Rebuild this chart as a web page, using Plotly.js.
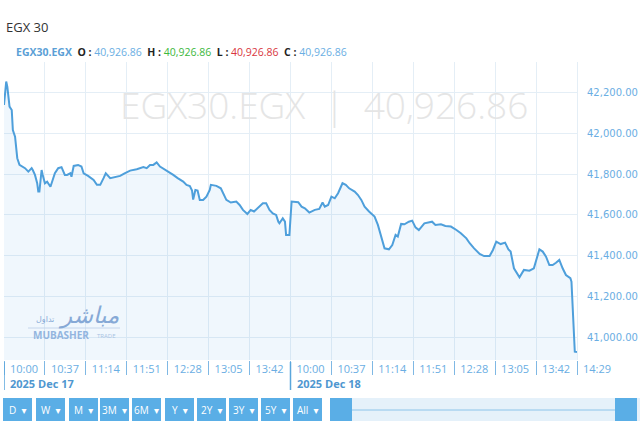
<!DOCTYPE html>
<html>
<head>
<meta charset="utf-8">
<script src="https://cdn.plot.ly/plotly-3.0.1.min.js"></script>
<style>html,body{margin:0;padding:0;background:#fff;}#chart{width:640px;height:421px;}</style>
</head>
<body>
<div id="chart"></div>
<script>
// ---- data ----
const chartTitle = 'EGX 30';
const symbol = 'EGX30.EGX';
const lastValue = '40,926.86';
const tickText = ['10:00','10:37','11:14','11:51','12:28','13:05','13:42','10:00','10:37','11:14','11:51','12:28','13:05','13:42','14:29'];
const tickIdx = [0,37,74,111,148,185,222,259,296,333,370,407,444,481,518];
const dayLabels = ['2025 Dec 17','2025 Dec 18'];
const dayStartIdx = [0,259];
const yTicks = [41000,41200,41400,41600,41800,42000,42200];
const rangeButtons = ['D','W','M','3M','6M','Y','2Y','3Y','5Y','All'];

const minuteIdx = [0,2,3,5,7,8,10,12,14,19,22,25,26,28,30,31,32,34,35,37,39,42,44,46,49,52,55,57,60,61,63,67,70,72,76,81,84,87,90,92,96,100,105,109,114,120,126,129,132,135,138,141,145,150,153,157,162,165,168,170,171,173,175,177,180,183,186,187,192,196,198,201,205,210,213,216,220,223,226,229,234,237,240,243,246,248,249,252,254,255,258,
260,266,269,272,276,281,285,288,290,293,296,299,302,306,309,312,317,320,323,326,330,335,338,341,344,348,351,354,356,359,362,366,369,372,375,380,384,387,390,395,399,404,409,413,418,421,425,430,434,439,442,445,449,453,456,458,461,466,470,475,479,482,484,487,490,493,496,499,502,505,508,512,513,516,518];
const indexValue = [42141,42256,42231,42133,42116,42018,41985,41879,41846,41830,41813,41830,41821,41797,41756,41715,41715,41821,41797,41756,41764,41739,41772,41805,41830,41835,41797,41797,41805,41788,41841,41846,41838,41805,41792,41772,41748,41748,41781,41805,41781,41786,41792,41805,41818,41825,41835,41830,41846,41846,41858,41838,41825,41805,41797,41781,41764,41748,41742,41720,41676,41723,41720,41674,41674,41690,41723,41748,41743,41731,41707,41674,41661,41666,41649,41625,41605,41625,41617,41633,41657,41657,41625,41608,41600,41567,41559,41584,41567,41502,41502,
41666,41663,41641,41633,41612,41625,41630,41661,41641,41649,41690,41682,41707,41756,41748,41731,41715,41698,41674,41641,41617,41592,41551,41494,41436,41431,41452,41502,41494,41556,41554,41567,41572,41539,41526,41559,41562,41567,41551,41554,41546,41543,41526,41510,41485,41461,41436,41408,41398,41398,41428,41469,41457,41464,41431,41420,41338,41294,41330,41326,41338,41387,41431,41420,41395,41354,41354,41365,41379,41338,41305,41289,41272,40928,40926.86];

// ---- layout helpers (pixel -> paper) ----
const W = 640, H = 421, L = 4, R = 577, T = 62, B = 360;
const px = x => (x - L) / (R - L);
const py = y => (B - y) / (B - T);
const FONT = 'Open Sans, Noto Sans, DejaVu Sans, sans-serif';
const BLUE = '#5aaee6';

const shapes = [];
const annotations = [];

// title
annotations.push({xref:'paper',yref:'paper',x:px(4),y:py(27),xanchor:'left',yanchor:'middle',showarrow:false,
  text:chartTitle,font:{family:FONT,size:13,color:'#333333'}});
// OHLC legend
const lab = (t)=>'<b><span style="color:#222">'+t+' : </span></b>';
annotations.push({xref:'paper',yref:'paper',x:px(14),y:py(52),xanchor:'left',yanchor:'middle',showarrow:false,
  text:'<b><span style="color:#5b9fd6">'+symbol+'</span></b>  '+lab('O')+'<span style="color:#6aaee3">'+lastValue+'</span>  '+
       lab('H')+'<span style="color:#3cb83c">'+lastValue+'</span>  '+
       lab('L')+'<span style="color:#d9363e">'+lastValue+'</span>  '+
       lab('C')+'<span style="color:#6aaee3">'+lastValue+'</span>',
  font:{family:FONT,size:10.5,color:'#333'}});
// watermark
annotations.push({xref:'paper',yref:'paper',x:px(324),y:py(105),xanchor:'center',yanchor:'middle',showarrow:false,
  text:symbol+'  |  '+lastValue,font:{family:FONT,size:37,color:'#e5e5e5',weight:300}});
// Mubasher logo
annotations.push({xref:'paper',yref:'paper',x:px(121),y:py(315),xanchor:'right',yanchor:'middle',showarrow:false,
  text:'<i>مباشر</i>',font:{family:'DejaVu Sans, sans-serif',size:23,color:'#86a9d6'}});
annotations.push({xref:'paper',yref:'paper',x:px(56),y:py(319),xanchor:'right',yanchor:'middle',showarrow:false,
  text:'تداول',font:{family:'DejaVu Sans, sans-serif',size:8,color:'#86a9d6'}});
annotations.push({xref:'paper',yref:'paper',x:px(31),y:py(335),xanchor:'left',yanchor:'middle',showarrow:false,
  text:'<b>MUBASHER</b>',font:{family:FONT,size:10,color:'#93b5df'}});
annotations.push({xref:'paper',yref:'paper',x:px(95),y:py(336),xanchor:'left',yanchor:'middle',showarrow:false,
  text:'TRADE',font:{family:FONT,size:6,color:'#a9c3e3'}});
shapes.push({type:'line',xref:'paper',yref:'paper',x0:px(28),x1:px(120),y0:py(328),y1:py(328),line:{color:'#c5d6ec',width:1}});

// day labels and long separators
dayStartIdx.forEach((d,i)=>{
  shapes.push({type:'line',xref:'x',yref:'paper',x0:d,x1:d,y0:py(362),y1:py(390),line:{color:'#5aa6dc',width:1.5}});
  annotations.push({xref:'x',yref:'paper',x:d,y:py(383),xanchor:'left',yanchor:'middle',xshift:4,showarrow:false,
    text:'<b>'+dayLabels[i]+'</b>',font:{family:FONT,size:11,color:'#4f97d0'}});
});

// range buttons
const btnLeft = [3,36,69,100,132,165,197,229,261,293];
rangeButtons.forEach((b,i)=>{
  const x0 = btnLeft[i], x1 = x0 + 29;
  shapes.push({type:'rect',xref:'paper',yref:'paper',x0:px(x0),x1:px(x1),y0:py(398),y1:py(425),fillcolor:BLUE,line:{width:0}});
  annotations.push({xref:'paper',yref:'paper',x:px((x0+x1)/2),y:py(410),xanchor:'center',yanchor:'middle',showarrow:false,
    text:b+'  ▾',font:{family:FONT,size:10,color:'#ffffff'}});
});
// navigator
shapes.push({type:'rect',xref:'paper',yref:'paper',x0:px(330),x1:px(645),y0:py(398),y1:py(425),fillcolor:'#e5f1fa',line:{width:0}});
shapes.push({type:'line',xref:'paper',yref:'paper',x0:px(352),x1:px(615),y0:py(410),y1:py(410),line:{color:'#8cc4ea',width:1}});
shapes.push({type:'rect',xref:'paper',yref:'paper',x0:px(330),x1:px(352),y0:py(398),y1:py(425),fillcolor:BLUE,line:{width:0}});
shapes.push({type:'rect',xref:'paper',yref:'paper',x0:px(615),x1:px(637),y0:py(398),y1:py(425),fillcolor:BLUE,line:{width:0}});

const trace = {
  type:'scatter',mode:'lines',x:minuteIdx,y:indexValue,
  line:{color:'#4e9fdb',width:2},
  fill:'tozeroy',fillcolor:'rgba(90,170,230,0.09)',
  hoverinfo:'skip'
};

const layout = {
  width:W,height:H,autosize:false,
  margin:{l:L,r:W-R,t:T,b:H-B,pad:0},
  paper_bgcolor:'#ffffff',plot_bgcolor:'#ffffff',
  showlegend:false,
  xaxis:{range:[0,518],tickmode:'array',tickvals:tickIdx,ticktext:tickText,
    showgrid:true,gridcolor:'#e4eef6',gridwidth:1,zeroline:false,showline:false,
    ticks:'outside',ticklen:14,tickwidth:1,tickcolor:'#7fb8e4',
    ticklabelshift:20,ticklabelstandoff:-15,
    tickfont:{family:FONT,size:11,color:'#6aaee3'},automargin:false,fixedrange:true},
  yaxis:{range:[40887,42352],side:'right',tickmode:'array',tickvals:yTicks,
    tickformat:',.2f',showgrid:true,gridcolor:'#e4eef6',gridwidth:1,zeroline:false,
    showline:true,linecolor:'#e4eef6',ticks:'',ticklabelstandoff:7,
    tickfont:{family:'DejaVu Sans, sans-serif',size:10,color:'#6aaee3'},automargin:false,fixedrange:true},
  shapes:shapes,annotations:annotations
};

Plotly.newPlot('chart',[trace],layout,{displayModeBar:false,staticPlot:true});
</script>
</body>
</html>
